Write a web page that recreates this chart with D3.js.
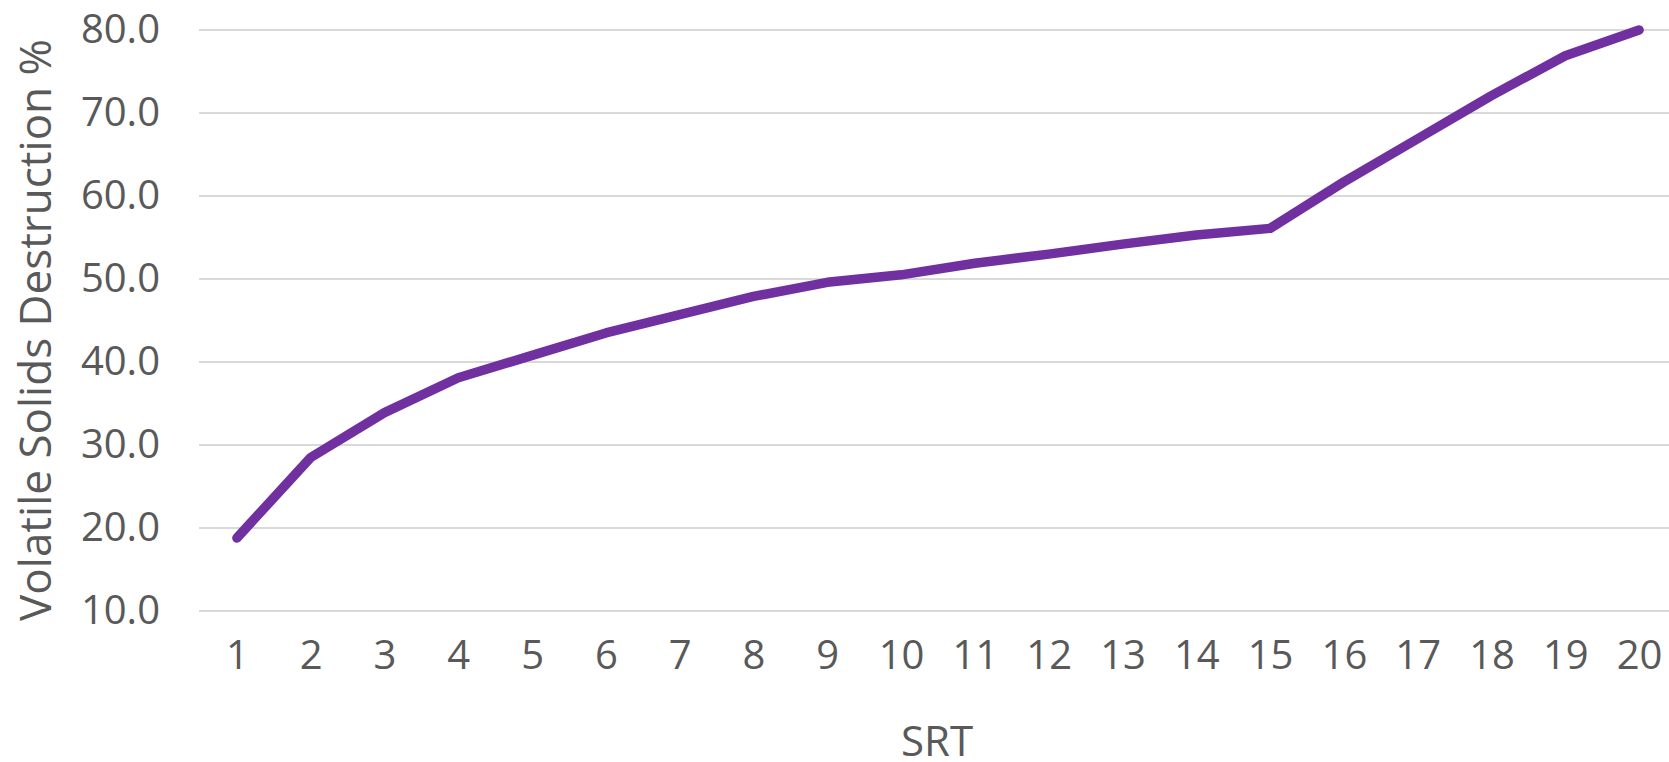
<!DOCTYPE html>
<html>
<head>
<meta charset="utf-8">
<script src="https://cdn.jsdelivr.net/npm/d3@7"></script>
<style>
  html, body { margin: 0; padding: 0; background: #fff; overflow: hidden; }
  svg { display: block; }
  text { font-family: "Open Sans", "Noto Sans", sans-serif; fill: #595959; }
</style>
</head>
<body>
<svg id="chart" width="1669" height="762"></svg>
<script>
const categories = [1,2,3,4,5,6,7,8,9,10,11,12,13,14,15,16,17,18,19,20];
const vsDestruction = [18.8, 28.5, 33.9, 38.1, 40.8, 43.5, 45.7, 47.9, 49.6, 50.5,
                       51.9, 53.0, 54.2, 55.3, 56.1, 61.7, 66.9, 72.1, 76.9, 80.0];
const yTicks = [10, 20, 30, 40, 50, 60, 70, 80];
const xTitle = "SRT";
const yTitle = "Volatile Solids Destruction %";

const W = 1669, H = 762;
const plot = { left: 200, right: 1676, top: 30, bottom: 611 };

const svg = d3.select("#chart");

const x = d3.scalePoint().domain(categories).range([plot.left, plot.right]).padding(0.5);
const y = d3.scaleLinear().domain([10, 80]).range([plot.bottom, plot.top]);

// gridlines
svg.append("g")
  .selectAll("line")
  .data(yTicks)
  .join("line")
  .attr("x1", plot.left - 1)
  .attr("x2", W)
  .attr("y1", d => y(d))
  .attr("y2", d => y(d))
  .attr("stroke", "#d9d9d9")
  .attr("stroke-width", 2);

// y axis labels
const yAxis = d3.axisLeft(y).tickValues(yTicks).tickFormat(d3.format(".1f")).tickSize(0).tickPadding(0);
const gy = svg.append("g").attr("transform", `translate(160,0)`).call(yAxis);
gy.select(".domain").remove();
gy.selectAll("text")
  .attr("font-size", 40)
  .attr("fill", "#595959")
  .attr("font-family", "'Open Sans', sans-serif");

// x axis labels
const xAxis = d3.axisBottom(x).tickSize(0).tickPadding(0);
const gx = svg.append("g").attr("transform", `translate(0,641)`).call(xAxis);
gx.select(".domain").remove();
gx.selectAll("text")
  .attr("font-size", 40)
  .attr("fill", "#595959")
  .attr("font-family", "'Open Sans', sans-serif");

// line
const line = d3.line()
  .x((d, i) => x(categories[i]))
  .y(d => y(d));

svg.append("path")
  .datum(vsDestruction)
  .attr("d", line)
  .attr("fill", "none")
  .attr("stroke", "#7030A0")
  .attr("stroke-width", 9.5)
  .attr("stroke-linejoin", "round")
  .attr("stroke-linecap", "round");

// axis titles
svg.append("text")
  .attr("x", 937)
  .attr("y", 756)
  .attr("text-anchor", "middle")
  .attr("font-size", 42)
  .text(xTitle);

svg.append("text")
  .attr("transform", `translate(51,330) rotate(-90)`)
  .attr("text-anchor", "middle")
  .attr("font-size", 44)
  .text(yTitle);
</script>
</body>
</html>
